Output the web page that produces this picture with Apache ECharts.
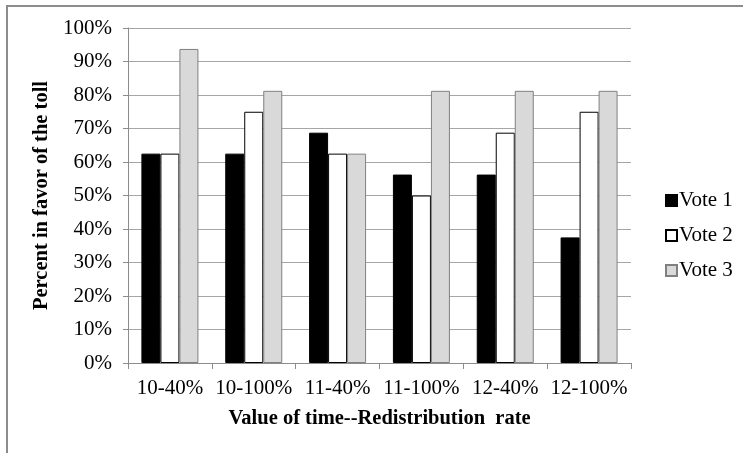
<!DOCTYPE html>
<html>
<head>
<meta charset="utf-8">
<script src="https://cdn.jsdelivr.net/npm/echarts@6/dist/echarts.min.js"></script>
<style>
  html, body { margin: 0; padding: 0; background: #fff; }
  #chart { width: 743px; height: 453px; }
</style>
</head>
<body>
<div id="chart"></div>
<script>
// categories on the x axis
const categories = ['10-40%', '10-100%', '11-40%', '11-100%', '12-40%', '12-100%']

// percent in favor, per vote
const vote1 = [62.5, 62.5, 68.75, 56.25, 56.25, 37.5]
const vote2 = [62.5, 75, 62.5, 50, 68.75, 75]
const vote3 = [93.75, 81.25, 62.5, 81.25, 81.25, 81.25]

const font = 'Liberation Serif'

const chart = echarts.init(document.getElementById('chart'))

const barStyle = (fill, stroke) => ({
  type: 'bar',
  barGap: 0,
  barCategoryGap: '32%',
  itemStyle: { color: fill, borderColor: stroke, borderWidth: 1 },
})

chart.setOption({
  animation: false,
  textStyle: { fontFamily: font },
  // chart frame, only the left and top edges fall inside the picture
  graphic: [
    {
      type: 'rect',
      shape: { x: 7, y: 6, width: 760, height: 470 },
      style: { fill: 'none', stroke: '#8c8c8c', lineWidth: 2 },
      silent: true,
    },
  ],
  grid: { left: 128, right: 112, top: 28, bottom: 90 },
  legend: {
    orient: 'vertical',
    left: 660,
    top: 185,
    itemGap: 14,
    itemWidth: 11,
    itemHeight: 11,
    icon: 'rect',
    textStyle: { fontFamily: font, fontSize: 21, color: '#000', padding: [0, 0, 0, -3] },
  },
  xAxis: {
    type: 'category',
    data: categories,
    name: 'Value of time--Redistribution  rate',
    nameLocation: 'middle',
    nameGap: 45,
    nameTextStyle: { fontFamily: font, fontSize: 20.5, fontWeight: 'bold', color: '#000' },
    axisLine: { lineStyle: { color: '#8c8c8c' } },
    axisTick: { show: true, length: 6, lineStyle: { color: '#8c8c8c' } },
    axisLabel: { interval: 0, hideOverlap: false, fontFamily: font, fontSize: 21, color: '#000', margin: 15 },
  },
  yAxis: {
    type: 'value',
    min: 0,
    max: 100,
    interval: 10,
    name: 'Percent in favor of the toll',
    nameLocation: 'middle',
    nameGap: 72,
    nameTextStyle: { fontFamily: font, fontSize: 20.5, fontWeight: 'bold', color: '#000' },
    axisLine: { show: true, lineStyle: { color: '#8c8c8c' } },
    axisTick: { show: true, inside: false, length: 5, lineStyle: { color: '#8c8c8c' } },
    splitLine: { lineStyle: { color: '#a6a6a6' } },
    axisLabel: { fontFamily: font, fontSize: 21, color: '#000', margin: 16, formatter: '{value}%' },
  },
  series: [
    { name: 'Vote 1', data: vote1, ...barStyle('#000000', '#000000') },
    { name: 'Vote 2', data: vote2, ...barStyle('#ffffff', '#000000') },
    { name: 'Vote 3', data: vote3, ...barStyle('#d9d9d9', '#808080') },
  ],
})
</script>
</body>
</html>
